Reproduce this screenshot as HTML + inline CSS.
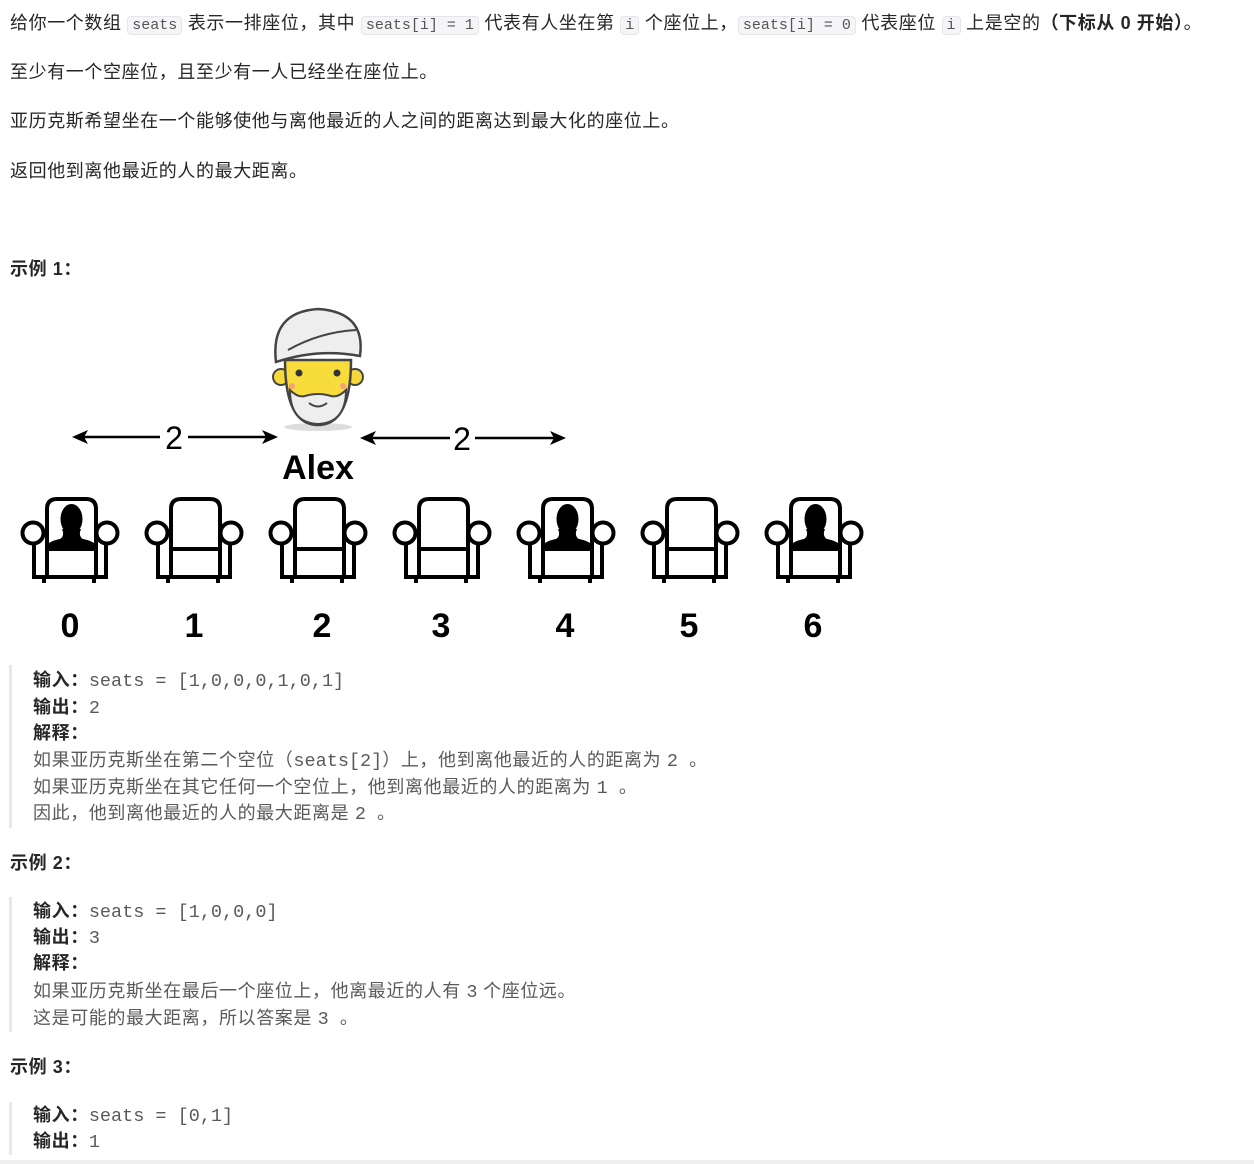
<!DOCTYPE html>
<html><head><meta charset="utf-8">
<style>
body{margin:0;width:1254px;height:1164px;background:#fff;position:relative;overflow:hidden;font-family:"Liberation Sans","Noto Sans CJK SC",sans-serif;color:#262626;}
.l{position:absolute;left:10px;font-size:18px;line-height:26px;white-space:nowrap;letter-spacing:0.6px;}
.c{font-family:"Liberation Mono","Noto Sans CJK SC",monospace;font-size:15px;letter-spacing:0;background:#f5f5f7;border:1px solid #e6e6ea;border-radius:4px;padding:0 4px;color:#555;}
.b{font-weight:bold;}
.q{position:absolute;left:9px;width:3px;background:#e8e8e8;}
.k{position:absolute;left:33px;font-size:18px;line-height:26px;white-space:nowrap;color:#5a5a5a;letter-spacing:0.6px;}
.k b{color:#262626;}
.m{font-family:"Liberation Mono",monospace;font-size:18.5px;letter-spacing:0;}
</style></head><body>
<div class="l" style="top:10px">给你一个数组 <span class="c">seats</span> 表示一排座位，其中 <span class="c">seats[i] = 1</span> 代表有人坐在第 <span class="c">i</span> 个座位上，<span class="c">seats[i] = 0</span> 代表座位 <span class="c">i</span> 上是空的<span class="b">（下标从 0 开始）</span>。</div>
<div class="l" style="top:59px">至少有一个空座位，且至少有一人已经坐在座位上。</div>
<div class="l" style="top:108px">亚历克斯希望坐在一个能够使他与离他最近的人之间的距离达到最大化的座位上。</div>
<div class="l" style="top:158px">返回他到离他最近的人的最大距离。</div>
<div class="l b" style="top:256px">示例 1：</div>

<svg style="position:absolute;left:0;top:0" width="900" height="660">
<defs>
<g id="ch" fill="none" stroke="#000" stroke-width="4">
<path d="M25 78 V10 Q25 0 35 0 H64 Q74 0 74 10 V78"/>
<circle cx="11" cy="34" r="10.5" fill="#fff"/>
<circle cx="85" cy="34" r="10.5" fill="#fff"/>
<path d="M12 44 V78 H84 V44"/>
<path d="M25 50 H74"/>
<path d="M22 78 V84 M72 78 V84"/>
</g>
<g id="ps" fill="#000">
<ellipse cx="49.5" cy="20" rx="11" ry="15"/>
<path d="M40 30 Q43 37 38 40 Q28 42 25 46 V50 H74 V46 Q71 42 61 40 Q56 37 59 30 Z"/>
</g>
</defs>
<g stroke="#000" stroke-width="2.5" fill="#000">
<line x1="80" y1="437" x2="160" y2="437"/><line x1="188" y1="437" x2="268" y2="437"/>
<polygon points="72,437 88,430 84,437 88,444" stroke="none"/>
<polygon points="278,437 262,430 266,437 262,444" stroke="none"/>
<line x1="368" y1="438" x2="450" y2="438"/><line x1="475" y1="438" x2="558" y2="438"/>
<polygon points="360,438 376,431 372,438 376,445" stroke="none"/>
<polygon points="566,438 550,431 554,438 550,445" stroke="none"/>
</g>
<text x="174" y="449" font-size="32" text-anchor="middle" font-family="Liberation Sans">2</text>
<text x="462" y="450" font-size="32" text-anchor="middle" font-family="Liberation Sans">2</text>
<ellipse cx="318" cy="427" rx="34" ry="4" fill="#ddd"/>
<circle cx="281" cy="377" r="8" fill="#f5d93a" stroke="#444" stroke-width="2"/>
<circle cx="355" cy="377" r="8" fill="#f5d93a" stroke="#444" stroke-width="2"/>
<path d="M285 360 Q285 425 318 425 Q351 425 351 360 Z" fill="#f7dc3c" stroke="#444" stroke-width="2.5"/>
<path d="M290 390 Q298 398 305 396 Q318 392 331 396 Q338 398 346 390 Q346 423 318 424 Q290 423 290 390 Z" fill="#eee" stroke="#444" stroke-width="2"/>
<path d="M309 403 Q318 410 327 403" fill="none" stroke="#444" stroke-width="2"/>
<circle cx="299" cy="373" r="3.5" fill="#333"/><circle cx="337" cy="373" r="3.5" fill="#333"/>
<circle cx="292" cy="386" r="3" fill="#f4a07a"/><circle cx="343" cy="386" r="3" fill="#f4a07a"/>
<path d="M276 362 Q270 312 318 309 Q366 312 360 356 Q318 348 276 362 Z" fill="#eee" stroke="#444" stroke-width="2.5"/>
<path d="M288 350 Q320 332 356 330" fill="none" stroke="#444" stroke-width="2"/>
<text x="318" y="479" font-size="34" font-weight="bold" text-anchor="middle" font-family="Liberation Sans">Alex</text>
<g transform="translate(22,499)"><use href="#ch"/><use href="#ps"/></g>
<g transform="translate(146,499)"><use href="#ch"/></g>
<g transform="translate(270,499)"><use href="#ch"/></g>
<g transform="translate(394,499)"><use href="#ch"/></g>
<g transform="translate(518,499)"><use href="#ch"/><use href="#ps"/></g>
<g transform="translate(642,499)"><use href="#ch"/></g>
<g transform="translate(766,499)"><use href="#ch"/><use href="#ps"/></g>
<g font-size="34" font-weight="bold" text-anchor="middle" font-family="Liberation Sans">
<text x="70" y="637">0</text><text x="194" y="637">1</text><text x="322" y="637">2</text><text x="441" y="637">3</text><text x="565" y="637">4</text><text x="689" y="637">5</text><text x="813" y="637">6</text>
</g>
</svg>

<div class="q" style="top:665px;height:163px"></div>
<div class="k" style="top:667px"><b>输入：</b><span class="m">seats = [1,0,0,0,1,0,1]</span></div>
<div class="k" style="top:694px"><b>输出：</b><span class="m">2</span></div>
<div class="k" style="top:720px"><b>解释：</b></div>
<div class="k" style="top:747px">如果亚历克斯坐在第二个空位（<span class="m">seats[2]</span>）上，他到离他最近的人的距离为 <span class="m">2 </span>。</div>
<div class="k" style="top:774px">如果亚历克斯坐在其它任何一个空位上，他到离他最近的人的距离为 <span class="m">1 </span>。</div>
<div class="k" style="top:800px">因此，他到离他最近的人的最大距离是 <span class="m">2 </span>。</div>

<div class="l b" style="top:850px">示例 2：</div>
<div class="q" style="top:897px;height:135px"></div>
<div class="k" style="top:898px"><b>输入：</b><span class="m">seats = [1,0,0,0]</span></div>
<div class="k" style="top:924px"><b>输出：</b><span class="m">3</span></div>
<div class="k" style="top:950px"><b>解释：</b></div>
<div class="k" style="top:978px">如果亚历克斯坐在最后一个座位上，他离最近的人有 <span class="m">3</span> 个座位远。</div>
<div class="k" style="top:1005px">这是可能的最大距离，所以答案是 <span class="m">3 </span>。</div>

<div class="l b" style="top:1054px">示例 3：</div>
<div class="q" style="top:1102px;height:53px"></div>
<div class="k" style="top:1102px"><b>输入：</b><span class="m">seats = [0,1]</span></div>
<div class="k" style="top:1128px"><b>输出：</b><span class="m">1</span></div>
<div style="position:absolute;left:0;top:1160px;width:1254px;height:4px;background:#eee"></div>
</body></html>
